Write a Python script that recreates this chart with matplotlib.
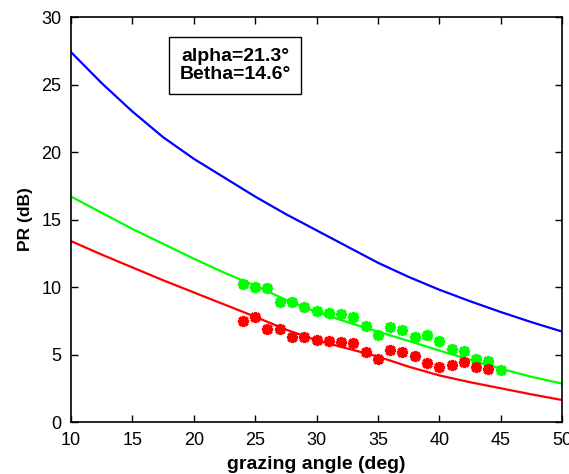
import numpy as np
import matplotlib
matplotlib.use("Agg")
import matplotlib.pyplot as plt

plt.rcParams['font.family'] = ['Liberation Sans', 'DejaVu Sans']

# model curves
angle_curve = [10, 12.5, 15, 17.5, 20, 22.5, 25, 27.5, 30, 32.5, 35, 37.5, 40, 42.5, 45, 47.5, 50]
pr_blue = [27.4, 25.1, 23.0, 21.1, 19.5, 18.1, 16.7, 15.4, 14.2, 13.0, 11.8, 10.75, 9.8, 8.95, 8.15, 7.4, 6.7]
pr_green = [16.7, 15.5, 14.3, 13.2, 12.1, 11.05, 10.1, 9.05, 8.15, 7.4, 6.7, 6.0, 5.3, 4.6, 3.95, 3.35, 2.85]
pr_red = [13.4, 12.4, 11.45, 10.5, 9.6, 8.7, 7.8, 6.85, 6.05, 5.45, 4.85, 4.1, 3.45, 2.95, 2.5, 2.05, 1.63]

# measured points
angle_green_pts = list(range(24, 46))
green_pts = [10.2, 10.0, 9.95, 8.9, 8.9, 8.5, 8.25, 8.1, 8.0, 7.75, 7.1, 6.45,
             7.05, 6.8, 6.3, 6.45, 6.0, 5.4, 5.25, 4.7, 4.5, 3.85]
angle_red_pts = list(range(24, 45))
red_pts = [7.5, 7.75, 6.9, 6.9, 6.3, 6.3, 6.05, 6.0, 5.9, 5.85, 5.2, 4.65,
           5.3, 5.15, 4.9, 4.4, 4.05, 4.25, 4.45, 4.05, 3.95]

fig = plt.figure(figsize=(5.69, 4.74), dpi=100)
ax = fig.add_axes([0.1248, 0.1097, 0.8629, 0.8544])

ax.plot(angle_curve, pr_blue, color='#0000ff', lw=1.6)
ax.plot(angle_curve, pr_green, color='#00ff00', lw=1.6)
ax.plot(angle_curve, pr_red, color='#ff0000', lw=1.6)
ax.plot(angle_green_pts, green_pts, ls='none', marker=(8, 2, 0), ms=8, mew=2.3, color='#00ff00')
ax.plot(angle_red_pts, red_pts, ls='none', marker=(8, 2, 0), ms=8, mew=2.3, color='#ff0000')

ax.set_xlim(10, 50)
ax.set_ylim(0, 30)
ax.set_xticks(np.arange(10, 51, 5))
ax.set_yticks(np.arange(0, 31, 5))
ax.tick_params(direction='in', top=True, right=True, length=5, width=1, labelsize=13, pad=7)
for s in ax.spines.values():
    s.set_linewidth(1.2)

ax.set_xlabel('grazing angle (deg)', fontsize=14, fontweight='bold', labelpad=5)
ax.set_ylabel('PR (dB)', fontsize=12.5, fontweight='bold', labelpad=6)

ax.text(0.334, 0.881, 'alpha=21.3\u00b0\nBetha=14.6\u00b0', transform=ax.transAxes,
        ha='center', va='center', fontsize=14, fontweight='bold', linespacing=1.1,
        bbox=dict(boxstyle='square,pad=0.55', facecolor='white', edgecolor='black', linewidth=1))

fig.savefig('out.png', dpi=100)
